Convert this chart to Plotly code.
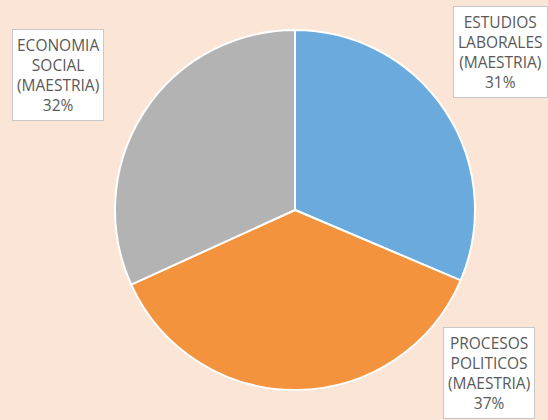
import plotly.graph_objects as go

labels = ["ESTUDIOS LABORALES (MAESTRIA)", "PROCESOS POLITICOS (MAESTRIA)", "ECONOMIA SOCIAL (MAESTRIA)"]
label_lines = ["ESTUDIOS<br>LABORALES<br>(MAESTRIA)", "PROCESOS<br>POLITICOS<br>(MAESTRIA)", "ECONOMIA<br>SOCIAL<br>(MAESTRIA)"]
values = [31.4, 36.8, 31.8]
colors = ["#6AAADC", "#F4933D", "#B3B3B3"]
# label box anchor (left, top) in pixels
box_pos = [(453, 6), (443, 327), (12, 29)]

W, H = 548, 420

fig = go.Figure(go.Pie(
    labels=labels,
    values=values,
    sort=False,
    direction="clockwise",
    rotation=0,
    marker=dict(colors=colors, line=dict(color="white", width=2)),
    textinfo="none",
    showlegend=False,
    domain=dict(x=[115 / W, 475 / W], y=[30 / H, 390 / H]),
))

total = sum(values)
for lab, v, (px, py) in zip(label_lines, values, box_pos):
    fig.add_annotation(
        x=px / W, y=1 - py / H, xref="paper", yref="paper",
        xanchor="left", yanchor="top",
        text=f"{lab}<br>{round(100 * v / total)}%",
        showarrow=False,
        align="center",
        font=dict(family="Open Sans", size=15.5, color="#595959"),
        bgcolor="white",
        bordercolor="#C8C8C8",
        borderwidth=1,
        borderpad=4,
    )

fig.update_layout(
    width=W, height=H,
    margin=dict(l=0, r=0, t=0, b=0),
    paper_bgcolor="#FBE5D6",
    plot_bgcolor="#FBE5D6",
)

fig.write_html(
    "out.html",
    config={"displayModeBar": False},
    post_script="document.body.style.margin='0';document.body.style.background='#FBE5D6';",
)
